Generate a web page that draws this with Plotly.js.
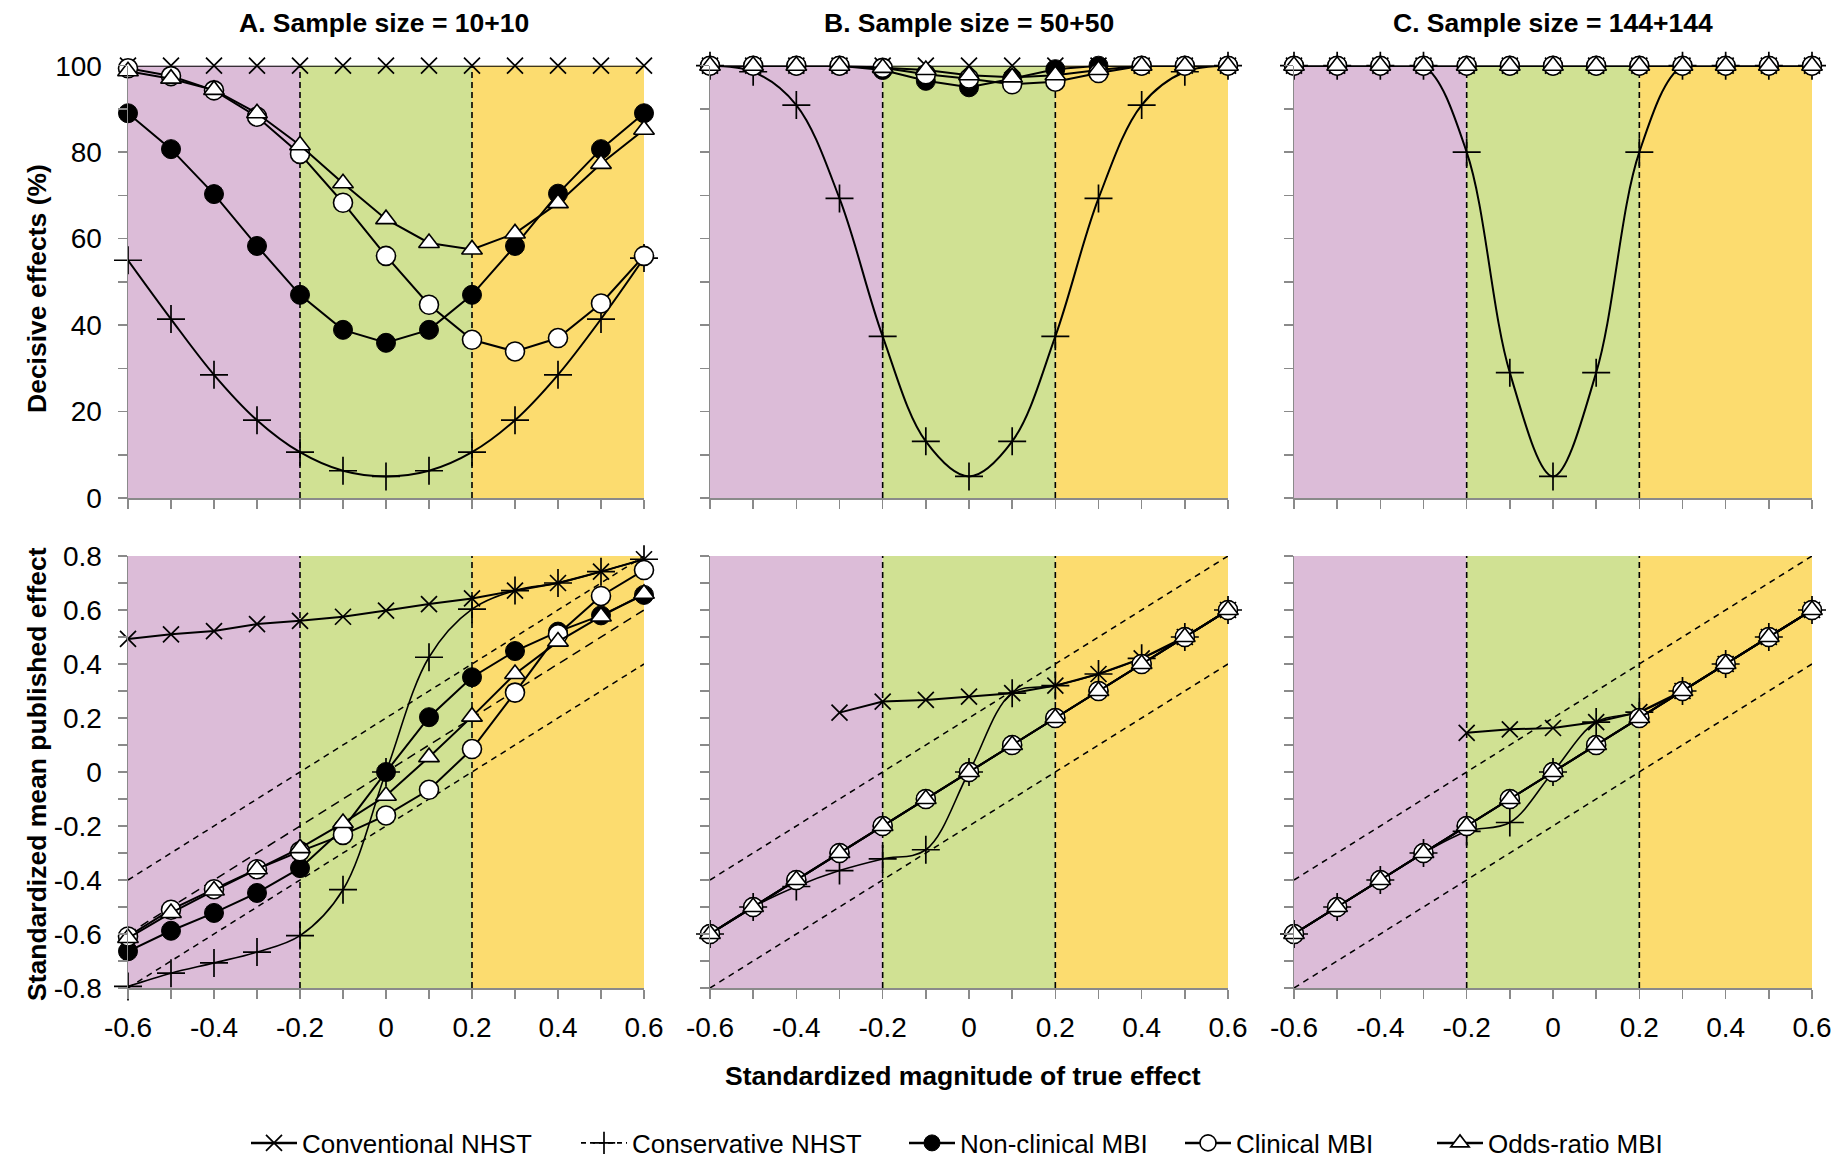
<!DOCTYPE html>
<html>
<head>
<meta charset="utf-8">
<script src="https://cdn.plot.ly/plotly-3.0.1.min.js"></script>
<style>
html,body{margin:0;padding:0;background:#ffffff;}
#chart{width:1838px;height:1167px;}
</style>
</head>
<body>
<div id="chart"></div>
<script>
// ---------------- DATA ----------------
const effect = [-0.6,-0.5,-0.4,-0.3,-0.2,-0.1,0,0.1,0.2,0.3,0.4,0.5,0.6];

const panelTitles = ['A. Sample size = 10+10','B. Sample size = 50+50','C. Sample size = 144+144'];
const seriesNames = ['Conventional NHST','Conservative NHST','Non-clinical MBI','Clinical MBI','Odds-ratio MBI'];
const yTitleTop = 'Decisive effects (%)';
const yTitleBottom = 'Standardized mean published effect';
const xTitle = 'Standardized magnitude of true effect';

const xTickVals = [-0.6,-0.5,-0.4,-0.3,-0.2,-0.1,0,0.1,0.2,0.3,0.4,0.5,0.6];
const xTickText = ['-0.6','','-0.4','','-0.2','','0','','0.2','','0.4','','0.6'];
const yTopTickVals = [0,10,20,30,40,50,60,70,80,90,100];
const yTopTickText = ['0','','20','','40','','60','','80','','100'];
const yBotTickVals = [-0.8,-0.7,-0.6,-0.5,-0.4,-0.3,-0.2,-0.1,0,0.1,0.2,0.3,0.4,0.5,0.6,0.7,0.8];
const yBotTickText = ['-0.8','','-0.6','','-0.4','','-0.2','','0','','0.2','','0.4','','0.6','','0.8'];

const zoneEdges = [-0.6,-0.2,0.2,0.6];
const thresholds = [-0.2,0.2];

// reference diagonals (bottom row)
const refX = [-0.6,0.6];
const refUpper = [-0.4,0.8];
const refMid = [-0.6,0.6];
const refLower = [-0.8,0.4];

// Top row: decisive effects (%)
const decA_conv    = [100,100,100,100,100,100,100,100,100,100,100,100,100];
const decA_cons    = [55,41.4,28.5,18,10.6,6.3,5,6.3,10.6,18,28.5,41.4,55.5];
const decA_nonclin = [89,80.7,70.3,58.3,47,38.9,35.9,38.9,47,58.3,70.4,80.7,89];
const decA_clin    = [99.4,97.6,94.3,88.2,79.6,68.3,56,44.7,36.6,33.9,37,45,56];
const decA_odds    = [98.7,97,94.4,89,81.6,72.8,64.5,59,57.5,61.2,68.2,77.3,85.2];

const decB_conv    = [100,100,100,100,100,100,100,100,100,100,100,100,100];
const decB_cons    = [100,98.6,90.9,69.3,37.4,13.1,5,13.1,37.4,69.3,90.9,98.6,100];
const decB_nonclin = [100,100,100,100,99,96.5,95,97,99.2,100,100,100,100];
const decB_clin    = [100,100,100,100,99.5,98,97,95.7,96.3,98.3,100,100,100];
const decB_odds    = [100,100,100,100,99.5,99,97.8,97.3,97.8,99,100,100,100];

const decC_conv    = [100,100,100,100,100,100,100,100,100,100,100,100,100];
const decC_cons    = [100,100,100,100,80,29,5,29,80,100,100,100,100];
const decC_nonclin = [100,100,100,100,100,100,100,100,100,100,100,100,100];
const decC_clin    = [100,100,100,100,100,100,100,100,100,100,100,100,100];
const decC_odds    = [100,100,100,100,100,100,100,100,100,100,100,100,100];

// Bottom row: standardized mean published effect
const pubA_conv    = [0.493,0.51,0.522,0.548,0.56,0.575,0.598,0.622,0.643,0.672,0.70,0.742,0.788];
const pubA_cons    = [-0.794,-0.745,-0.707,-0.667,-0.606,-0.436,0,0.425,0.603,0.672,0.70,0.742,0.788];
const pubA_nonclin = [-0.664,-0.588,-0.522,-0.448,-0.356,-0.21,0,0.203,0.351,0.448,0.52,0.58,0.656];
const pubA_clin    = [-0.609,-0.51,-0.434,-0.36,-0.294,-0.233,-0.161,-0.066,0.085,0.294,0.51,0.652,0.748];
const pubA_odds    = [-0.615,-0.522,-0.439,-0.36,-0.282,-0.189,-0.088,0.055,0.205,0.363,0.483,0.576,0.66];

const pubB_conv    = [null,null,null,0.22,0.261,0.267,0.279,0.292,0.32,0.363,0.421,0.5,0.6];
const pubB_cons    = [-0.6,-0.5,-0.424,-0.365,-0.322,-0.288,0,0.292,0.32,0.363,0.421,0.5,0.6];
const pubB_nonclin = [-0.6,-0.5,-0.4,-0.3,-0.2,-0.1,0,0.1,0.2,0.3,0.4,0.5,0.6];
const pubB_clin    = [-0.6,-0.5,-0.4,-0.3,-0.2,-0.1,0,0.1,0.2,0.3,0.4,0.5,0.6];
const pubB_odds    = [-0.6,-0.5,-0.4,-0.3,-0.2,-0.1,0,0.1,0.2,0.3,0.4,0.5,0.6];

const pubC_conv    = [null,null,null,null,0.145,0.158,0.163,0.185,0.222,0.3,0.4,0.5,0.6];
const pubC_cons    = [-0.6,-0.5,-0.4,-0.3,-0.22,-0.187,0,0.185,0.222,0.3,0.4,0.5,0.6];
const pubC_nonclin = [-0.6,-0.5,-0.4,-0.3,-0.2,-0.1,0,0.1,0.2,0.3,0.4,0.5,0.6];
const pubC_clin    = [-0.6,-0.5,-0.4,-0.3,-0.2,-0.1,0,0.1,0.2,0.3,0.4,0.5,0.6];
const pubC_odds    = [-0.6,-0.5,-0.4,-0.3,-0.2,-0.1,0,0.1,0.2,0.3,0.4,0.5,0.6];

// ---------------- STYLE ----------------
const W = 1838, H = 1167;
const NARROW = '"Liberation Sans Narrow", "Arial Narrow", "Liberation Sans", Arial, sans-serif';
const REG = '"Liberation Sans", Arial, Helvetica, sans-serif';
const AXIS_GRAY = '#8a8a8a';
const ZONE_COLORS = ['#dcbcd8','#d0e193','#fcdc6f'];
const TICK_SIZE = 28;

const colPx = [[128,644],[710,1228],[1294,1812]];
const rowPx = [[65.7,498],[556,988]]; // top, bottom (pixel from top)

const styles = [
  {mode:'lines+markers', line:{color:'#000',width:2}, marker:{symbol:'x-thin-open',size:16,color:'#000',line:{color:'#000',width:1.7}}},
  {mode:'lines+markers', line:{color:'#000',width:2,shape:'spline',smoothing:1}, marker:{symbol:'cross-thin-open',size:20,color:'#000',line:{color:'#000',width:1.7}}},
  {mode:'lines+markers', line:{color:'#000',width:2}, marker:{symbol:'circle',size:19,color:'#000',line:{color:'#000',width:1}}},
  {mode:'lines+markers', line:{color:'#000',width:2}, marker:{symbol:'circle',size:19,color:'#fff',line:{color:'#000',width:1.6}}},
  {mode:'lines+markers', line:{color:'#000',width:2}, marker:{symbol:'triangle-up',size:18,color:'#fff',line:{color:'#000',width:1.6}}}
];

const topData = [
  [decA_conv,decA_cons,decA_nonclin,decA_clin,decA_odds],
  [decB_conv,decB_cons,decB_nonclin,decB_clin,decB_odds],
  [decC_conv,decC_cons,decC_nonclin,decC_clin,decC_odds]
];
const botData = [
  [pubA_conv,pubA_cons,pubA_nonclin,pubA_clin,pubA_odds],
  [pubB_conv,pubB_cons,pubB_nonclin,pubB_clin,pubB_odds],
  [pubC_conv,pubC_cons,pubC_nonclin,pubC_clin,pubC_odds]
];

function clone(o){return JSON.parse(JSON.stringify(o));}

const traces = [];
const layout = {
  width:W, height:H, margin:{l:0,r:0,t:0,b:0},
  paper_bgcolor:'#fff', plot_bgcolor:'rgba(0,0,0,0)',
  shapes:[], annotations:[], showlegend:true,
  font:{family:REG,color:'#000'}
};

function sub(n){return n===1?'':String(n);}

for(let row=0; row<2; row++){
  for(let col=0; col<3; col++){
    const n = row*3 + col + 1;
    const xa = 'x'+sub(n), ya = 'y'+sub(n);
    const xDom = [colPx[col][0]/W, colPx[col][1]/W];
    const yDom = [(H-rowPx[row][1])/H, (H-rowPx[row][0])/H];
    const showX = row===1;
    const showY = col===0;
    layout['xaxis'+sub(n)] = {
      domain:xDom, anchor:ya, range:[-0.6,0.6], fixedrange:true,
      tickmode:'array', tickvals:xTickVals, ticktext:xTickText,
      showticklabels:showX, ticks:'outside', ticklen:9, tickwidth:1.5, tickcolor:AXIS_GRAY,
      showline:true, linecolor:AXIS_GRAY, linewidth:1.5, showgrid:false, zeroline:false,
      tickfont:{family:NARROW,size:TICK_SIZE,color:'#000'}, ticklabelstandoff:5
    };
    layout['yaxis'+sub(n)] = {
      domain:yDom, anchor:xa, fixedrange:true,
      range: row===0 ? [0,100] : [-0.8,0.8],
      tickmode:'array',
      tickvals: row===0 ? yTopTickVals : yBotTickVals,
      ticktext: row===0 ? yTopTickText : yBotTickText,
      showticklabels:showY, ticks:'outside', ticklen:9, tickwidth:1.5, tickcolor:AXIS_GRAY,
      showline:true, linecolor:AXIS_GRAY, linewidth:1.5, showgrid:false, zeroline:false,
      tickfont:{family:NARROW,size:TICK_SIZE,color:'#000'}, ticklabelstandoff:10
    };
    // zones
    for(let z=0; z<3; z++){
      layout.shapes.push({type:'rect', xref:xa, yref:ya+' domain', x0:zoneEdges[z], x1:zoneEdges[z+1], y0:0, y1:1,
        fillcolor:ZONE_COLORS[z], line:{width:0}, layer:'below'});
    }
    thresholds.forEach(t=>{
      layout.shapes.push({type:'line', xref:xa, yref:ya+' domain', x0:t, x1:t, y0:0, y1:1,
        line:{color:'#000',width:1.6,dash:'6px,4px'}, layer:'below'});
    });
    // reference diagonals on bottom row
    if(row===1){
      [[refUpper,'6px,5px'],[refMid,'9px,6px'],[refLower,'6px,5px']].forEach(([ys,d])=>{
        traces.push({x:refX, y:ys, xaxis:xa, yaxis:ya, mode:'lines', showlegend:false, hoverinfo:'skip',
          line:{color:'#000',width:1.5,dash:d}});
      });
    }
    const dataSet = row===0 ? topData[col] : botData[col];
    dataSet.forEach((ys,k)=>{
      const t = clone(styles[k]);
      t.x = effect; t.y = ys; t.xaxis = xa; t.yaxis = ya;
      t.showlegend = false; t.cliponaxis = false; t.hoverinfo = 'skip';
      t.name = seriesNames[k];
      if(k===1 && row===1) t.line.width = 1.6;
      traces.push(t);
    });
  }
}

// legend entries (one legend box per series so spacing can follow the original)
const legendLeftPx = [246,576,904,1180,1432];
seriesNames.forEach((nm,k)=>{
  const t = clone(styles[k]);
  t.x = [null]; t.y = [null]; t.xaxis='x'; t.yaxis='y';
  t.name = nm; t.showlegend = true; t.hoverinfo='skip';
  t.line.shape = 'linear';
  t.line.width = 2.5;
  if(k===1){ t.line.dash = '5px,4px'; t.line.width = 1.8; }
  t.legend = k===0 ? 'legend' : 'legend'+(k+1);
  traces.push(t);
  layout[k===0?'legend':'legend'+(k+1)] = {
    x:legendLeftPx[k]/W, xanchor:'left', y:24/H, yanchor:'middle', orientation:'h',
    bgcolor:'rgba(0,0,0,0)', borderwidth:0, itemwidth:46,
    font:{family:REG,size:26,color:'#000'}, itemclick:false, itemdoubleclick:false
  };
});

// titles
const titleCenters = [384,969,1553];
panelTitles.forEach((tx,i)=>{
  layout.annotations.push({text:'<b>'+tx+'</b>', xref:'paper', yref:'paper', x:titleCenters[i]/W, y:(H-23)/H,
    xanchor:'center', yanchor:'middle', showarrow:false, font:{family:REG,size:26.5,color:'#000'}});
});
layout.annotations.push({text:'<b>'+yTitleTop+'</b>', xref:'paper', yref:'paper', x:37/W, y:(H-289)/H,
  xanchor:'center', yanchor:'middle', textangle:-90, showarrow:false, font:{family:REG,size:26.5,color:'#000'}});
layout.annotations.push({text:'<b>'+yTitleBottom+'</b>', xref:'paper', yref:'paper', x:37/W, y:(H-774)/H,
  xanchor:'center', yanchor:'middle', textangle:-90, showarrow:false, font:{family:REG,size:26.5,color:'#000'}});
layout.annotations.push({text:'<b>'+xTitle+'</b>', xref:'paper', yref:'paper', x:963/W, y:(H-1076)/H,
  xanchor:'center', yanchor:'middle', showarrow:false, font:{family:REG,size:26.5,color:'#000'}});

Plotly.newPlot('chart', traces, layout, {staticPlot:true, displayModeBar:false});
</script>
</body>
</html>
